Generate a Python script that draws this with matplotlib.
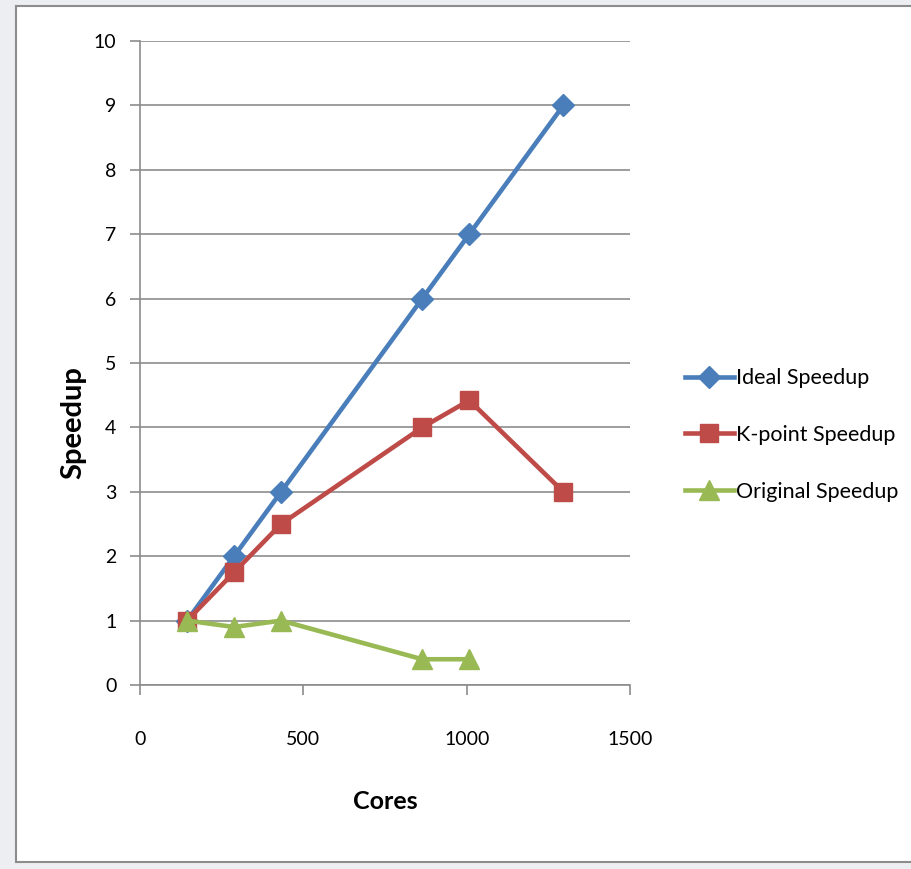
import matplotlib.pyplot as plt
from matplotlib.patches import Rectangle

cores = [144, 288, 432, 864, 1008, 1296]
ideal = [1, 2, 3, 6, 7, 9]
kpoint = [1, 1.75, 2.5, 4, 4.42, 3]
original = [1, 0.9, 1, 0.4, 0.4]

plt.rcParams['font.family'] = ['Lato', 'DejaVu Sans']

fig = plt.figure(figsize=(9.12, 8.69), dpi=100)
fig.patch.set_facecolor('#eceef2')
# white chart area with a grey frame, behind the axes
frame = Rectangle((16 / 912, 1 - 862 / 869), 1.0, (862 - 6) / 869,
                  transform=fig.transFigure, facecolor='white',
                  edgecolor='#8c8c8c', linewidth=1.5, zorder=-10)
fig.patches.append(frame)

ax = fig.add_axes([140 / 912, 1 - 685 / 869, 490 / 912, 644 / 869])
ax.set_zorder(5)
ax.set_facecolor('none')

ax.plot(cores, ideal, color='#4a7ebb', linewidth=3.3, marker='D', markersize=11,
        label='Ideal Speedup', zorder=3, clip_on=False)
ax.plot(cores, kpoint, color='#be4b48', linewidth=3.3, marker='s', markersize=13.5,
        label='K-point Speedup', zorder=3, clip_on=False)
ax.plot(cores[:len(original)], original, color='#98b954', linewidth=3.3, marker='^',
        markersize=14, label='Original Speedup', zorder=3, clip_on=False)

ax.set_xlim(0, 1500)
ax.set_ylim(0, 10)
ax.set_xticks([0, 500, 1000, 1500])
ax.set_yticks(range(0, 11))
ax.grid(axis='y', color='#8c8c8c', linewidth=1.2)
ax.set_axisbelow(True)

for s in ['top', 'right']:
    ax.spines[s].set_visible(False)
for s in ['left', 'bottom']:
    ax.spines[s].set_color('#8c8c8c')
    ax.spines[s].set_linewidth(1.2)

ax.tick_params(axis='x', direction='out', length=7, width=1.2, color='#8c8c8c',
               pad=26, labelsize=14)
ax.tick_params(axis='y', direction='out', length=7, width=1.2, color='#8c8c8c',
               pad=10, labelsize=14)

ax.set_xlabel('Cores', fontsize=18, fontweight='bold')
ax.xaxis.set_label_coords(245 / 490, -(790 - 685) / 644)
ax.set_ylabel('Speedup', fontsize=21, fontweight='bold')
ax.yaxis.set_label_coords(-(140 - 86) / 490, (685 - 423) / 644)

ax.legend(loc='center left', bbox_to_anchor=(1.072, (685 - 435) / 644), frameon=False,
          fontsize=15.5, handlelength=2.3, handletextpad=0.1, labelspacing=1.7)

fig.savefig('out.png', dpi=100, facecolor=fig.get_facecolor())
